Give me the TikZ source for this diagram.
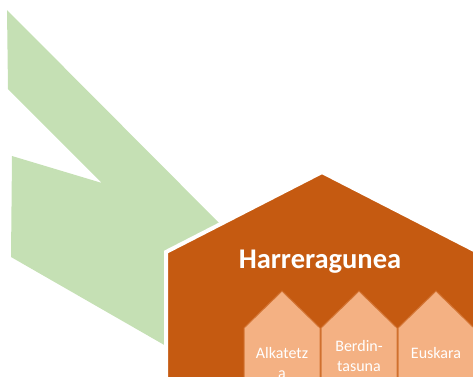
\documentclass[tikz,border=0pt]{standalone}
\usepackage{fontspec}
\setmainfont{Carlito}
\definecolor{lgreen}{HTML}{C5E0B4}
\definecolor{dorange}{HTML}{C55A11}
\definecolor{lorange}{HTML}{F4B183}
\tikzset{
  smallhouse/.style={fill=lorange, draw=dorange!70!lorange, line width=1pt},
  smalltext/.style={text=white, font=\fontsize{16}{19}\selectfont, inner sep=0pt, anchor=base},
}
\begin{document}
\begin{tikzpicture}[x=1pt,y=-1pt]
\useasboundingbox (0,0) rectangle (473,376);
\clip (0,0) rectangle (473,376);
% green chevron
\fill[lgreen] (7,10) -- (8,89) -- (102,183) -- (12,156) -- (11,257) -- (180,354) -- (240,244) -- cycle;
% big house
\draw[fill=dorange, draw=white, line width=4pt, line join=miter] (166,252) -- (322,172) -- (478,252) -- (478,390) -- (166,390) -- cycle;
\node[text=white, font=\fontsize{28.5}{31}\selectfont\bfseries, inner sep=0pt, anchor=base] (title) at (320,268) {Harreragunea};
% small houses
\draw[smallhouse] (244,328) -- (282,291) -- (320,328) -- (320,390) -- (244,390) -- cycle;
\draw[smallhouse] (321,328) -- (359,291) -- (397,328) -- (397,390) -- (321,390) -- cycle;
\draw[smallhouse] (398,328) -- (436,291) -- (474,328) -- (474,390) -- (398,390) -- cycle;
\node[smalltext] (alk1) at (282,358) {Alkatetz};
\node[smalltext] (alk2) at (282,378) {a};
\node[smalltext] (ber1) at (359,351) {Berdin-};
\node[smalltext] (ber2) at (359,371) {tasuna};
\node[smalltext] (eus) at (436,358) {Euskara};
\end{tikzpicture}
\end{document}
